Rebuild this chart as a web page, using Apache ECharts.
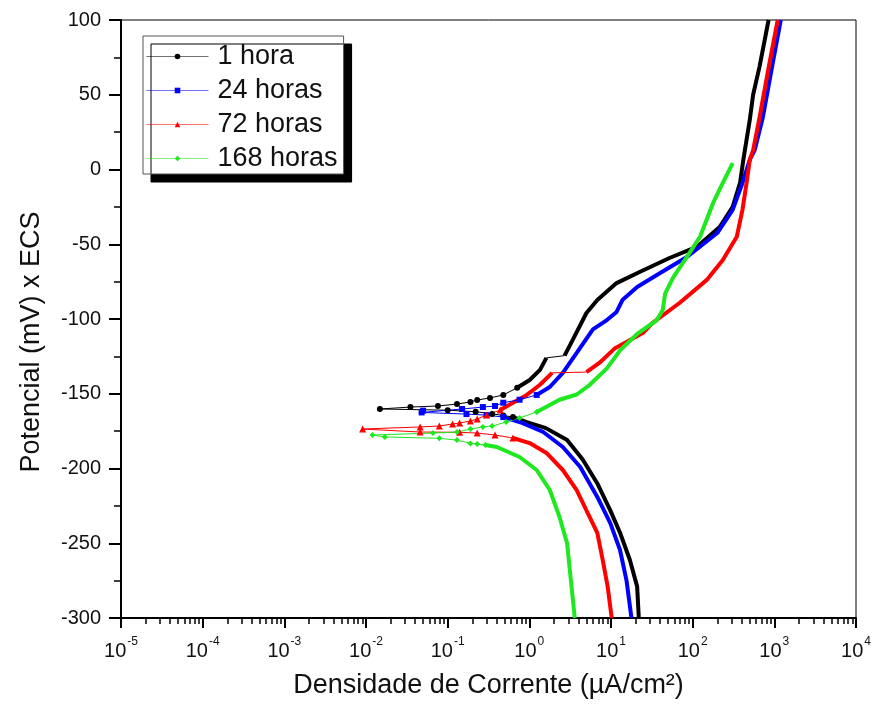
<!DOCTYPE html>
<html><head><meta charset="utf-8">
<script src="https://cdn.jsdelivr.net/npm/echarts@6/dist/echarts.min.js"></script>
<style>html,body{margin:0;padding:0;background:#fff}#c{width:875px;height:709px}</style>
</head><body><div id="c"></div>
<script>
const seriesNames = ['1 hora', '24 horas', '72 horas', '168 horas'];
const xTickValues = [1e-5, 1e-4, 1e-3, 1e-2, 1e-1, 1, 10, 100, 1000, 10000];
const xTickExponents = ['-5', '-4', '-3', '-2', '-1', '0', '1', '2', '3', '4'];
const yTickValues = [-300, -250, -200, -150, -100, -50, 0, 50, 100];

// 1 hora  [current density µA/cm², potential mV]
const h1Cathodic = [[21.9,-300],[20.9,-279],[17.0,-261],[12.9,-243],[9.8,-228],[6.8,-210],[4.5,-194],[2.9,-181],[1.6,-173],[0.93,-169],[0.63,-165.6]];
const h1Ecorr = [[0.48,-164.5],[0.35,-163.5],[0.22,-162],[0.1,-161],[0.0148,-160.2],[0.035,-158.9],[0.076,-158.2],[0.13,-156.9],[0.19,-155.5],[0.23,-154.2],[0.33,-152.8],[0.48,-150.8]];
const h1AnodicA = [[0.71,-146],[1.01,-140.8],[1.35,-134],[1.62,-126]];
const h1AnodicB = [[2.7,-124.5],[3.4,-114],[5.0,-96],[6.8,-87.3],[11.7,-76],[22.4,-68.6],[52,-59.2],[112,-51.8],[214,-38.5],[309,-25],[380,-9],[417,6.4],[500,33],[550,50],[660,69],[850,100]];

// 24 horas
const h24Cathodic = [[17.8,-300],[15.5,-275],[12.9,-254.5],[9.8,-236.5],[6.8,-219],[4.2,-199],[2.57,-185.6],[1.48,-175.6],[0.83,-169.6],[0.48,-165.6]];
const h24Ecorr = [[0.3,-164.3],[0.17,-163.6],[0.048,-162.5],[0.05,-161.3],[0.15,-160.2],[0.27,-158.9],[0.38,-158.2],[0.48,-156],[0.76,-154]];
const h24Anodic = [[1.23,-150.8],[1.78,-145.5],[2.57,-136],[3.8,-122.7],[6.0,-107],[8.9,-100.7],[11.7,-95.3],[13.8,-87.3],[20.9,-78.6],[40,-69.2],[85,-58.5],[200,-42.5],[309,-27],[407,-9],[500,6.4],[575,13],[724,35],[933,68],[1200,100]];

// 72 horas
const h72Cathodic = [[10.2,-300],[9.1,-279],[7.9,-261],[6.8,-243],[5.0,-228],[3.8,-214.4],[2.57,-201],[1.62,-189.6],[1.01,-183],[0.63,-179.6]];
const h72Ecorr = [[0.38,-177.6],[0.23,-176.3],[0.14,-175.8],[0.046,-175.6],[0.0091,-173.6],[0.046,-172.2],[0.079,-171.6],[0.115,-170.2],[0.14,-169.6],[0.19,-168.2],[0.23,-166.9],[0.30,-164.2]];
const h72AnodicA = [[0.44,-160.9],[0.63,-156],[0.93,-150.8],[1.35,-144],[1.9,-136]];
const h72AnodicB = [[5.0,-135.5],[7.2,-129.4],[11.2,-119.5],[24.5,-109.4],[32,-102.7],[69,-89.3],[148,-74],[234,-60.5],[347,-45],[407,-27],[457,-9],[500,6.4],[550,13],[660,35],[850,68],[1100,100]];

// 168 horas
const h168Cathodic = [[3.6,-300],[3.16,-270],[2.9,-250],[2.34,-232.4],[1.78,-214.4],[1.23,-201],[0.76,-192.3],[0.40,-185.6],[0.29,-184.3]];
const h168Ecorr = [[0.23,-183.6],[0.19,-183.2],[0.13,-181],[0.079,-179.8],[0.017,-178.9],[0.012,-177.6],[0.066,-176.3],[0.13,-175.6],[0.19,-173.6],[0.27,-172.2],[0.35,-171.6],[0.52,-168.9],[0.76,-166.2]];
const h168Anodic = [[1.23,-162.2],[2.34,-154],[3.8,-150.5],[5.5,-144],[8.9,-133],[12.9,-121],[20.9,-110],[36,-101],[43,-94],[46,-83],[58,-72],[85,-58.5],[123,-45],[178,-22.4],[234,-9],[309,4.3]];

const curves = [
  {name: seriesNames[0], color: '#000000', symbol: 'circle', cath: h1Cathodic, ecorr: h1Ecorr, anodic: [h1AnodicA, h1AnodicB]},
  {name: seriesNames[1], color: '#0000ff', symbol: 'rect', cath: h24Cathodic, ecorr: h24Ecorr, anodic: [h24Anodic]},
  {name: seriesNames[2], color: '#ff0000', symbol: 'triangle', cath: h72Cathodic, ecorr: h72Ecorr, anodic: [h72AnodicA, h72AnodicB]},
  {name: seriesNames[3], color: '#1ee81e', symbol: 'diamond', cath: h168Cathodic, ecorr: h168Ecorr, anodic: [h168Anodic]}
];

const FONT = '"Liberation Sans", Arial, sans-serif';
const series = [];
curves.forEach(c => {
  series.push({
    name: c.name, type: 'line', xAxisIndex: 0,
    data: [c.cath[c.cath.length - 1]].concat(c.ecorr, [c.anodic[0][0]]),
    symbol: c.symbol, symbolSize: c.symbol === 'triangle' ? 7 : 6, showSymbol: true,
    itemStyle: {color: c.color}, lineStyle: {color: c.color, width: 1},
    animation: false, z: 3
  });
  const thick = [c.cath].concat(c.anodic);
  thick.forEach(seg => series.push({
    name: c.name, type: 'line', xAxisIndex: 0, data: seg, symbol: 'none',
    lineStyle: {color: c.color, width: 4}, itemStyle: {color: c.color}, animation: false, z: 2
  }));
  for (let i = 1; i < c.anodic.length; i++) {
    const a = c.anodic[i - 1], b = c.anodic[i];
    series.push({
      name: c.name, type: 'line', xAxisIndex: 0, data: [a[a.length - 1], b[0]], symbol: 'none',
      lineStyle: {color: c.color, width: 1}, itemStyle: {color: c.color}, animation: false, z: 2
    });
  }
});

const minorX = [];
for (let k = -5; k < 4; k++) for (let m = 2; m <= 9; m++) minorX.push(parseFloat((m * Math.pow(10, k)).toPrecision(3)));

const chart = echarts.init(document.getElementById('c'));
chart.setOption({
  backgroundColor: '#fff',
  animation: false,
  grid: {left: 121, right: 19, top: 20, bottom: 91, show: true, borderColor: '#000', borderWidth: 1, backgroundColor: 'transparent'},
  legend: {
    data: seriesNames, left: 143, top: 36, orient: 'vertical',
    itemWidth: 62, itemHeight: 7, itemGap: 7, selectedMode: false,
    padding: [7, 6, 2, 3],
    backgroundColor: '#fff', borderColor: '#555', borderWidth: 1,
    shadowColor: '#000', shadowOffsetX: 8, shadowOffsetY: 8, shadowBlur: 0.01,
    lineStyle: {width: 1, opacity: 0.55},
    textStyle: {fontSize: 27, fontFamily: FONT, color: '#111', padding: [0, 0, 0, 4]}
  },
  xAxis: [{
    type: 'log', logBase: 10, min: xTickValues[0], max: xTickValues[xTickValues.length - 1],
    name: 'Densidade de Corrente (µA/cm²)', nameLocation: 'middle', nameGap: 54,
    nameTextStyle: {fontSize: 27, fontFamily: FONT, color: '#111'},
    axisLine: {show: true, onZero: false, lineStyle: {color: '#000', width: 2}},
    axisTick: {show: true, inside: false, length: 10, lineStyle: {color: '#000', width: 2}},
    splitLine: {show: false}, minorTick: {show: false},
    axisLabel: {
      margin: 17, color: '#111', fontFamily: FONT,
      formatter: v => {
        const i = xTickValues.findIndex(t => Math.abs(Math.log10(t) - Math.log10(v)) < 1e-6);
        return '{b|10}{s|' + (i >= 0 ? xTickExponents[i] : '') + '}';
      },
      rich: {b: {fontSize: 20, fontFamily: FONT, color: '#111', lineHeight: 26, verticalAlign: 'bottom'},
             s: {fontSize: 12, fontFamily: FONT, color: '#111', lineHeight: 26, verticalAlign: 'top', padding: [1, 0, 0, 1]}}
    }
  }, {
    type: 'log', logBase: 10, min: xTickValues[0], max: xTickValues[xTickValues.length - 1], position: 'bottom',
    axisLine: {show: false, onZero: false}, axisLabel: {show: false}, splitLine: {show: false},
    axisTick: {show: true, inside: false, length: 6, customValues: minorX, lineStyle: {color: '#000', width: 1.5}}
  }],
  yAxis: {
    type: 'value', min: yTickValues[0], max: yTickValues[yTickValues.length - 1], interval: 50,
    name: 'Potencial (mV) x ECS', nameLocation: 'middle', nameGap: 76,
    nameTextStyle: {fontSize: 27, fontFamily: FONT, color: '#111', padding: [0, 46, 0, 0]},
    axisLine: {show: true, lineStyle: {color: '#000', width: 2}},
    axisTick: {show: true, inside: false, length: 12, lineStyle: {color: '#000', width: 2}},
    minorTick: {show: true, splitNumber: 2, length: 7, lineStyle: {color: '#000', width: 1.5}},
    splitLine: {show: false},
    axisLabel: {margin: 20, fontSize: 20, fontFamily: FONT, color: '#111'}
  },
  series: series
});
</script></body></html>
